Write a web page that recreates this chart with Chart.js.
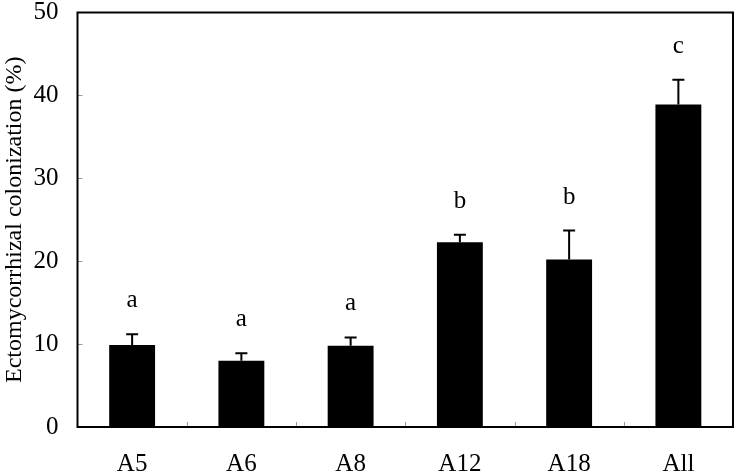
<!DOCTYPE html>
<html>
<head>
<meta charset="utf-8">
<script src="https://cdn.jsdelivr.net/npm/chart.js@4/dist/chart.umd.min.js"></script>
<style>
html,body{margin:0;padding:0;background:#fff;}
#wrap{width:736px;height:474px;position:relative;}
</style>
</head>
<body>
<div id="wrap"><canvas id="c" width="736" height="474"></canvas></div>
<script>
const categories = ["A5", "A6", "A8", "A12", "A18", "All"];
const means = [9.9, 8.0, 9.8, 22.3, 20.2, 38.9];
const errorTops = [11.2, 8.9, 10.8, 23.2, 23.7, 41.9];
const sigLetters = ["a", "a", "a", "b", "b", "c"];
const yTicks = [0, 10, 20, 30, 40, 50];
const yTitle = "Ectomycorrhizal colonization (%)";

const FONT = "'Liberation Serif', 'Times New Roman', serif";

const extras = {
  id: 'extras',
  afterDatasetsDraw(chart) {
    const ctx = chart.ctx;
    const area = chart.chartArea;
    const xs = chart.scales.x, ys = chart.scales.y;
    const meta = chart.getDatasetMeta(0);
    ctx.save();
    ctx.strokeStyle = '#000';
    ctx.lineWidth = 2;
    meta.data.forEach((bar, i) => {
      const x = bar.x;
      const yTop = ys.getPixelForValue(errorTops[i]);
      const yMean = ys.getPixelForValue(means[i]);
      ctx.beginPath();
      ctx.moveTo(x, yMean);
      ctx.lineTo(x, yTop);
      ctx.moveTo(x - 6, yTop);
      ctx.lineTo(x + 6, yTop);
      ctx.stroke();
      ctx.fillStyle = '#000';
      ctx.font = "25px " + FONT;
      ctx.textAlign = 'center';
      ctx.textBaseline = 'alphabetic';
      ctx.fillText(sigLetters[i], x, yTop - 27);
    });
    ctx.lineWidth = 1;
    ctx.strokeStyle = '#999';
    yTicks.forEach(v => {
      if (v === 0 || v === 50) return;
      const y = Math.round(ys.getPixelForValue(v)) + 0.5;
      ctx.beginPath();
      ctx.moveTo(area.left, y);
      ctx.lineTo(area.left + 5, y);
      ctx.stroke();
    });
    for (let i = 1; i < categories.length; i++) {
      const x = Math.round((xs.getPixelForValue(i - 1) + xs.getPixelForValue(i)) / 2) + 0.5;
      ctx.beginPath();
      ctx.moveTo(x, area.bottom);
      ctx.lineTo(x, area.bottom - 5);
      ctx.stroke();
    }
    ctx.strokeStyle = '#000';
    ctx.lineWidth = 2;
    ctx.strokeRect(area.left, area.top, area.right - area.left, area.bottom - area.top);
    ctx.restore();
  }
};

new Chart(document.getElementById('c'), {
  type: 'bar',
  data: {
    labels: categories,
    datasets: [{
      data: means,
      backgroundColor: '#000',
      borderWidth: 0,
      barPercentage: 0.42,
      categoryPercentage: 1.0
    }]
  },
  options: {
    responsive: false,
    animation: false,
    devicePixelRatio: 1,
    layout: { padding: { left: 0, top: 12.5, right: 3, bottom: 0 } },
    plugins: { legend: { display: false }, tooltip: { enabled: false } },
    scales: {
      x: {
        grid: { display: false },
        border: { display: false },
        ticks: { color: '#000', font: { family: FONT, size: 25 }, padding: 14, maxRotation: 0 },
        afterFit(scale) { scale.height = 47; scale.paddingLeft = 0; scale.paddingRight = 0; }
      },
      y: {
        min: 0, max: 50,
        afterBuildTicks(scale) { scale.ticks = yTicks.map(v => ({ value: v })); },
        grid: { display: false },
        border: { display: false },
        ticks: { color: '#000', font: { family: FONT, size: 25 }, padding: 11 },
        title: { display: true, text: yTitle, color: '#000', font: { family: FONT, size: 24 }, padding: { top: 0, bottom: 0 } },
        afterFit(scale) { scale.width = 77.5; scale.paddingTop = 0; scale.paddingBottom = 0; }
      }
    }
  },
  plugins: [extras]
});
</script>
</body>
</html>
